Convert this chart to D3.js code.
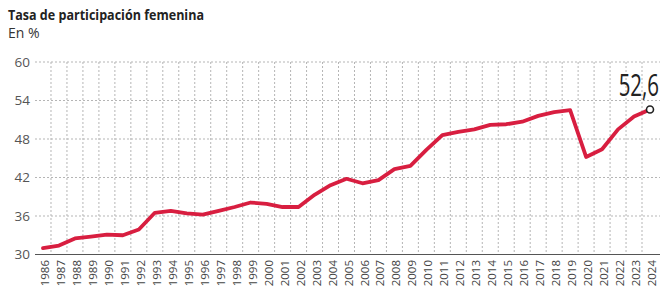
<!DOCTYPE html>
<html>
<head lang="es">
    <meta charset="UTF-8">
    <title>Tasa de participación femenina</title>
    <script type="text/javascript" src="https://cdn.jsdelivr.net/npm/d3@7/dist/d3.min.js"></script>
    <style>
        body { margin: 0; background: #fff; }
        svg { display: block; font-family: "Open Sans", sans-serif; }
    </style>
</head>
<body>

<svg width="667" height="291"></svg>

<script>
    var years = [1986, 1987, 1988, 1989, 1990, 1991, 1992, 1993, 1994, 1995,
        1996, 1997, 1998, 1999, 2000, 2001, 2002, 2003, 2004, 2005,
        2006, 2007, 2008, 2009, 2010, 2011, 2012, 2013, 2014, 2015,
        2016, 2017, 2018, 2019, 2020, 2021, 2022, 2023, 2024];
    var rate = [31.0, 31.4, 32.5, 32.8, 33.1, 33.0, 33.9, 36.5, 36.8, 36.4,
        36.2, 36.8, 37.4, 38.1, 37.9, 37.4, 37.4, 39.3, 40.8, 41.8,
        41.1, 41.6, 43.3, 43.8, 46.3, 48.6, 49.1, 49.5, 50.2, 50.3,
        50.7, 51.6, 52.2, 52.5, 45.2, 46.4, 49.5, 51.5, 52.6];
    var yTicks = [30, 36, 42, 48, 54, 60];
    var lastLabel = "52,6";

    var svg = d3.select("svg");

    var x = d3.scalePoint().domain(years).range([43, 650]);
    var y = d3.scaleLinear().domain([30, 60]).range([254.5, 62]);
    var step = x.step();

    // title
    svg.append("text")
            .attr("x", 8).attr("y", 20)
            .attr("font-size", 14).attr("font-weight", "bold")
            .attr("fill", "#222")
            .attr("textLength", 196).attr("lengthAdjust", "spacingAndGlyphs")
            .text("Tasa de participación femenina");
    svg.append("text")
            .attr("x", 8).attr("y", 38)
            .attr("font-size", 14).attr("fill", "#333")
            .text("En %");

    // horizontal grid
    svg.append("g").selectAll("line")
            .data(yTicks.filter(function (d) { return d > 30; }))
            .enter().append("line")
            .attr("x1", 35).attr("x2", 660)
            .attr("y1", function (d) { return y(d); })
            .attr("y2", function (d) { return y(d); })
            .attr("stroke", "#b5b5b5").attr("stroke-width", 1)
            .attr("stroke-dasharray", "2,2");

    // vertical grid, between years
    svg.append("g").selectAll("line")
            .data(years.slice(0, years.length - 1))
            .enter().append("line")
            .attr("x1", function (d) { return x(d) + step / 2; })
            .attr("x2", function (d) { return x(d) + step / 2; })
            .attr("y1", y(60)).attr("y2", y(30))
            .attr("stroke", "#b5b5b5").attr("stroke-width", 1)
            .attr("stroke-dasharray", "2,2");

    // baseline
    svg.append("line")
            .attr("x1", 35).attr("x2", 660)
            .attr("y1", y(30)).attr("y2", y(30))
            .attr("stroke", "#555").attr("stroke-width", 1.2);

    // y labels
    svg.append("g").selectAll("text")
            .data(yTicks)
            .enter().append("text")
            .attr("x", 30)
            .attr("y", function (d) { return y(d); })
            .attr("dy", "0.35em")
            .attr("text-anchor", "end")
            .attr("font-size", 13.5).attr("fill", "#555")
            .text(function (d) { return d; });

    // x labels
    svg.append("g").selectAll("text")
            .data(years)
            .enter().append("text")
            .attr("transform", function (d) {
                return "translate(" + (x(d) + 2) + "," + 260 + ") rotate(-90)";
            })
            .attr("dy", "0.35em")
            .attr("text-anchor", "end")
            .attr("font-size", 11.5).attr("fill", "#444")
            .text(function (d) { return d; });

    // the line
    var line = d3.line()
            .x(function (d, i) { return x(years[i]); })
            .y(function (d) { return y(d); });

    svg.append("path")
            .datum(rate)
            .attr("d", line)
            .attr("fill", "none")
            .attr("stroke", "#d81e40")
            .attr("stroke-width", 3.8)
            .attr("stroke-linejoin", "round")
            .attr("stroke-linecap", "round");

    var last = rate.length - 1;
    svg.append("circle")
            .attr("cx", x(years[last]))
            .attr("cy", y(rate[last]))
            .attr("r", 3.5)
            .attr("fill", "#fff")
            .attr("stroke", "#222")
            .attr("stroke-width", 1.6);

    // condensed big label
    svg.append("text")
            .attr("transform", "translate(659,96) scale(0.66,1)")
            .attr("text-anchor", "end")
            .attr("font-size", 31)
            .attr("fill", "#222")
            .text(lastLabel);
</script>
</body>
</html>
